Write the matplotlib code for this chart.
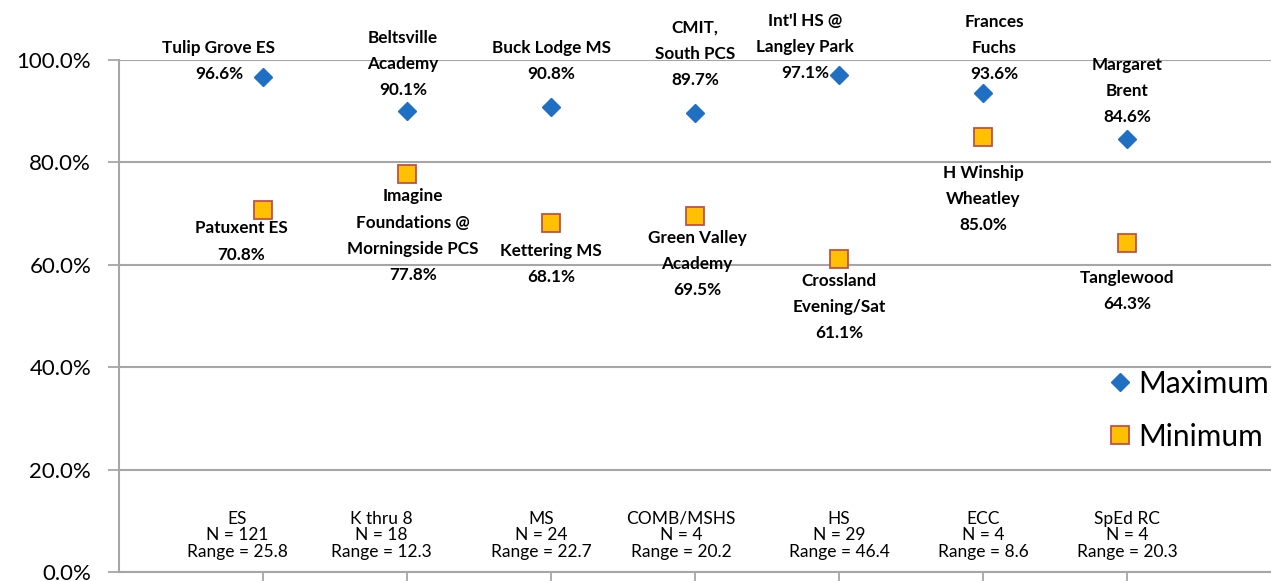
import matplotlib.pyplot as plt
from matplotlib.ticker import PercentFormatter

# datos
categorias = ['ES', 'K thru 8', 'MS', 'COMB/MSHS', 'HS', 'ECC', 'SpEd RC']
n_escuelas = [121, 18, 24, 4, 29, 4, 4]
rangos = [25.8, 12.3, 22.7, 20.2, 46.4, 8.6, 20.3]

maximo = [96.6, 90.1, 90.8, 89.7, 97.1, 93.6, 84.6]
nombres_max = ['Tulip Grove ES', 'Beltsville\nAcademy', 'Buck Lodge MS', 'CMIT,\nSouth PCS',
               "Int'l HS @\nLangley Park", 'Frances\nFuchs', 'Margaret\nBrent']

minimo = [70.8, 77.8, 68.1, 69.5, 61.1, 85.0, 64.3]
nombres_min = ['Patuxent ES', 'Imagine\nFoundations @\nMorningside PCS', 'Kettering MS',
               'Green Valley\nAcademy', 'Crossland\nEvening/Sat', 'H Winship\nWheatley', 'Tanglewood']

# desplazamiento de etiquetas (pixeles)
off_max = [(-44, 16), (-4, 47), (0, 46), (0, 59), (-34, 28), (11, 45), (0, 48)]
off_min = [(-22, -32), (6, -62), (0, -41), (2, -48), (0, -48), (0, -62), (0, -48)]
off_cat = [-26, -26, -10, -14, 0, 0, 0]

plt.rcParams['font.family'] = ['Lato', 'DejaVu Sans']

fig = plt.figure(figsize=(12.71, 5.81), dpi=100)
ax = fig.add_axes([119 / 1271, 9 / 581, 1 - 119 / 1271, 512 / 581])

x = list(range(1, len(categorias) + 1))

ax.plot(x, maximo, 'D', color='#1f6fc2', markersize=9.5, label='Maximum', clip_on=False, zorder=3)
ax.plot(x, minimo, 's', markerfacecolor='#ffc000', markeredgecolor='#c0504d', markeredgewidth=1.3,
        markersize=12.5, label='Minimum', clip_on=False, zorder=3)

for i in range(len(x)):
    ax.annotate(f'{nombres_max[i]}\n{maximo[i]:.1f}%', (x[i], maximo[i]), xytext=off_max[i],
                textcoords='offset pixels', ha='center', va='center', fontsize=12.3,
                fontweight='bold', linespacing=1.78, annotation_clip=False)
    ax.annotate(f'{nombres_min[i]}\n{minimo[i]:.1f}%', (x[i], minimo[i]), xytext=off_min[i],
                textcoords='offset pixels', ha='center', va='center', fontsize=12.3,
                fontweight='bold', linespacing=1.78, annotation_clip=False)
    ax.annotate(f'{categorias[i]}\nN = {n_escuelas[i]}\nRange = {rangos[i]}', (x[i], 7.2),
                xytext=(off_cat[i], 0), textcoords='offset pixels', ha='center', va='center',
                fontsize=12.5, linespacing=1.03)

ax.set_xlim(0, 8)
ax.set_ylim(0, 100)
ax.set_yticks([0, 20, 40, 60, 80, 100])
ax.yaxis.set_major_formatter(PercentFormatter(decimals=1))
ax.set_xticks(x)
ax.set_xticklabels([])
ax.tick_params(axis='y', labelsize=16, length=8, width=1.3, color='#a6a6a6', pad=12)
ax.tick_params(axis='x', length=8, width=1.3, color='#a6a6a6')

ax.grid(axis='y', color='#a6a6a6', linewidth=1.5)
ax.set_axisbelow(True)
for lado in ['top', 'right']:
    ax.spines[lado].set_visible(False)
for lado in ['left', 'bottom']:
    ax.spines[lado].set_color('#a6a6a6')
    ax.spines[lado].set_linewidth(1.5)

ax.legend(loc='center right', bbox_to_anchor=(1.009, 0.316), frameon=False, fontsize=21.5,
          handletextpad=0.2, labelspacing=0.85, borderaxespad=0.0, handlelength=0.85)

fig.savefig('out.png', dpi=100)
